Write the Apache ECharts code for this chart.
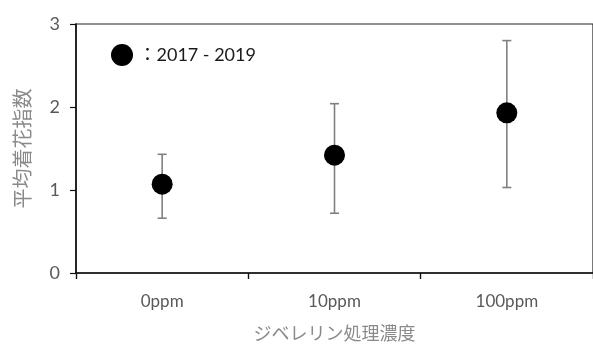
<!DOCTYPE html>
<html>
<head>
<meta charset="utf-8">
<style>
  html, body { margin: 0; padding: 0; background: #fff; }
  #chart { width: 593px; height: 347px; }
</style>
<script src="https://cdn.jsdelivr.net/npm/echarts@6/dist/echarts.min.js"></script>
</head>
<body>
<div id="chart"></div>
<script>
// Gibberellin treatment concentration vs. mean flowering index (2017 - 2019)
const categories = ['0ppm', '10ppm', '100ppm'];
const meanIndex = [1.07, 1.42, 1.93];
const errLow = [0.66, 0.72, 1.03];
const errHigh = [1.43, 2.04, 2.80];
const yTicks = [0, 1, 2, 3];
const seriesName = '：2017 - 2019';

const numFont = 'Lato, "Open Sans", "Noto Sans CJK JP", sans-serif';
const jpFont = '"Noto Sans CJK JP", "Noto Sans", sans-serif';

const chart = echarts.init(document.getElementById('chart'), null, { renderer: 'canvas' });

const errorData = categories.map((c, i) => [i, errLow[i], errHigh[i]]);

chart.setOption({
  animation: false,
  backgroundColor: '#fff',
  grid: {
    left: 76, top: 24, width: 525, height: 254,
    show: true, borderColor: '#222', borderWidth: 1.2, backgroundColor: 'transparent'
  },
  legend: {
    left: 106, top: 39,
    icon: 'circle', itemWidth: 23, itemHeight: 22, itemGap: 2,
    data: [seriesName],
    itemStyle: { color: '#000', opacity: 1 },
    textStyle: { color: '#1a1a1a', fontSize: 18, fontFamily: numFont }
  },
  xAxis: {
    type: 'category',
    data: categories,
    boundaryGap: true,
    axisLine: { lineStyle: { color: '#111', width: 1.6 } },
    axisTick: { show: true, length: 6, inside: false, lineStyle: { color: '#111', width: 1.4 } },
    axisLabel: { color: '#595959', fontSize: 17, fontFamily: numFont, margin: 20 },
    name: 'ジベレリン処理濃度',
    nameLocation: 'middle',
    nameGap: 51,
    nameTextStyle: { color: '#8a8a8a', fontSize: 18, fontFamily: jpFont }
  },
  yAxis: {
    type: 'value',
    min: yTicks[0], max: yTicks[yTicks.length - 1], interval: 1,
    axisLine: { show: true, lineStyle: { color: '#111', width: 1.6 } },
    axisTick: { show: true, length: 6, lineStyle: { color: '#111', width: 1.2 } },
    splitLine: { show: false },
    axisLabel: { color: '#595959', fontSize: 18, fontFamily: numFont, margin: 16 },
    name: '平均着花指数',
    nameLocation: 'middle',
    nameGap: 44,
    nameTextStyle: { color: '#8a8a8a', fontSize: 20, fontFamily: jpFont }
  },
  series: [
    {
      type: 'custom',
      name: 'error',
      z: 1,
      data: errorData,
      renderItem: function (params, api) {
        const x = api.value(0);
        const lo = api.coord([x, api.value(1)]);
        const hi = api.coord([x, api.value(2)]);
        const half = 4.5;
        const style = { stroke: '#808080', lineWidth: 1.6 };
        return {
          type: 'group',
          children: [
            { type: 'line', shape: { x1: hi[0], y1: hi[1], x2: lo[0], y2: lo[1] }, style: style },
            { type: 'line', shape: { x1: hi[0] - half, y1: hi[1], x2: hi[0] + half, y2: hi[1] }, style: style },
            { type: 'line', shape: { x1: lo[0] - half, y1: lo[1], x2: lo[0] + half, y2: lo[1] }, style: style }
          ]
        };
      }
    },
    {
      type: 'scatter',
      name: seriesName,
      z: 2,
      data: meanIndex,
      symbol: 'circle',
      symbolSize: 21,
      itemStyle: { color: '#000', opacity: 1 }
    }
  ]
});
</script>
</body>
</html>
